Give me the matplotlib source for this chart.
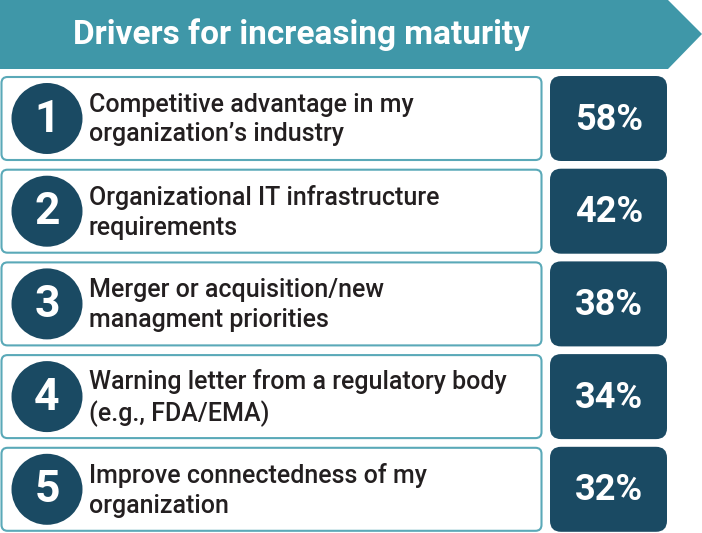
import matplotlib.pyplot as plt
from matplotlib.patches import FancyBboxPatch, Polygon, Circle

# chart content
title = "Drivers for increasing maturity"
ranks = ["1", "2", "3", "4", "5"]
drivers = [
    "Competitive advantage in my\norganization\u2019s industry",
    "Organizational IT infrastructure\nrequirements",
    "Merger or acquisition/new\nmanagment priorities",
    "Warning letter from a regulatory body\n(e.g., FDA/EMA)",
    "Improve connectedness of my\norganization",
]
shares = [58, 42, 38, 34, 32]

teal = "#3f97a8"
border = "#5aa9b8"
navy = "#1a4a63"
ink = "#231f20"
font = "Roboto"

fig = plt.figure(figsize=(7.02, 5.33), dpi=100)
ax = fig.add_axes([0, 0, 1, 1])
ax.set_xlim(0, 702)
ax.set_ylim(533, 0)
ax.axis('off')

# header banner with arrow tip
ax.add_patch(Polygon([(0, 0), (668, 0), (702, 34), (668, 69), (0, 69)],
                     closed=True, facecolor=teal, edgecolor='none'))
ax.text(73, 35, title, color='white', fontsize=24, fontweight='bold',
        family=font, ha='left', va='center')

top = 76
step = 92.7
h = 85
for i, (rank, label, val) in enumerate(zip(ranks, drivers, shares)):
    y0 = top + i * step
    yc = y0 + h / 2
    ax.add_patch(FancyBboxPatch((1.5, y0 + 1), 540, h - 2,
                                boxstyle="round,pad=0,rounding_size=6",
                                facecolor='white', edgecolor=border, linewidth=1.5))
    ax.add_patch(FancyBboxPatch((550, y0), 117, h,
                                boxstyle="round,pad=0,rounding_size=11",
                                facecolor=navy, edgecolor='none'))
    ax.add_patch(Circle((47, yc), 35.5, facecolor=navy, edgecolor='none'))
    ax.text(47, yc + 1, rank, color='white', fontsize=32, fontweight='bold',
            family=font, ha='center', va='center')
    ax.text(89, yc + 1, label, color=ink, fontsize=18, fontweight='medium',
            family=font, ha='left', va='center', linespacing=1.3)
    ax.text(609, yc + 1, f"{val}%", color='white', fontsize=26, fontweight='bold',
            family=font, ha='center', va='center')

fig.savefig('out.png', dpi=100)
